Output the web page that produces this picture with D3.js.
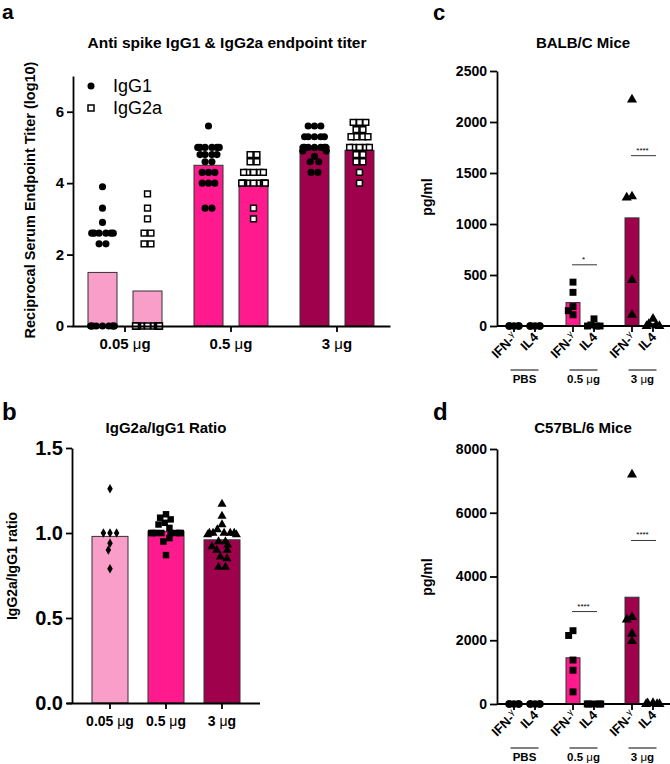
<!DOCTYPE html>
<html><head><meta charset="utf-8">
<script src="https://cdn.jsdelivr.net/npm/d3@7"></script>
<style>body{margin:0;background:#fff} svg{display:block} text{font-family:Arial,"Liberation Sans",sans-serif}</style>
</head><body><svg id="c" width="670" height="764"></svg>
<script>
// ---------------- DATA ----------------
const doseLabels = ["0.05 μg", "0.5 μg", "3 μg"];
const doseColors = ["#F99DC9", "#FF1B8D", "#A0014C"];

// Panel a : anti spike IgG1 & IgG2a endpoint titer (log10)
const aSeries = ["IgG1", "IgG2a"];
const aYTicks = [0, 2, 4, 6];
const aBarIgG1 = [1.5, 4.5, 5.03];
const aBarIgG2a = [0.98, 4.08, 4.92];
const aIgG1_005 = [3.9, 3.3, 2.9, 2.6, 2.6, 2.6, 2.6, 2.6, 2.6, 2.3, 2.3, 0, 0, 0, 0, 0, 0, 0, 0, 0];
const aIgG1_05 = [5.6, 5.0, 5.0, 5.0, 5.0, 5.0, 5.0, 4.8, 4.8, 4.8, 4.8, 4.6, 4.6, 4.3, 4.3, 4.3, 4.0, 4.0, 4.0, 3.3, 3.3];
const aIgG1_3 = [5.6, 5.6, 5.6, 5.3, 5.3, 5.3, 5.3, 5.3, 5.0, 5.0, 5.0, 5.0, 5.0, 5.0, 5.0, 4.9, 4.9, 4.75, 4.6, 4.6, 4.3, 4.3];
const aIgG2a_005 = [3.7, 3.3, 3.0, 2.6, 2.6, 2.3, 2.3, 0, 0, 0, 0, 0, 0, 0, 0, 0, 0, 0, 0, 0];
const aIgG2a_05 = [4.8, 4.8, 4.6, 4.6, 4.3, 4.3, 4.3, 4.3, 4.3, 4.0, 4.0, 4.0, 4.0, 4.0, 4.0, 4.0, 4.0, 4.0, 3.3, 3.0];
const aIgG2a_3 = [5.7, 5.7, 5.7, 5.5, 5.5, 5.3, 5.3, 5.3, 5.3, 5.0, 5.0, 5.0, 5.0, 5.0, 4.8, 4.8, 4.6, 4.6, 4.3, 4.0];

// Panel b : IgG2a/IgG1 ratio
const bYTicks = [0, 0.5, 1.0, 1.5];
const bBars = [0.98, 1.01, 0.96];
const bRatio005 = [1.26, 1.0, 1.0, 1.0, 0.94, 0.90, 0.79];
const bRatio05 = [1.11, 1.09, 1.08, 1.06, 1.05, 1.03, 1.0, 1.0, 1.0, 1.0, 1.0, 1.0, 1.0, 1.0, 0.97, 0.95, 0.87];
const bRatio3 = [1.17, 1.10, 1.05, 1.02, 1.0, 1.0, 1.0, 1.0, 1.0, 0.99, 0.99, 0.95, 0.95, 0.93, 0.92, 0.90, 0.90, 0.86, 0.85, 0.80, 0.80];

// Panels c & d : cytokines (pg/ml)
const cdGroups = ["PBS", "0.5 μg", "3 μg"];
const cdCytokines = ["IFN-γ", "IL4"];
const cdColors = ["#FFFFFF", "#FF1B8D", "#A0014C"];
const cYTicks = [0, 500, 1000, 1500, 2000, 2500];
const cBarIFN = [0, 230, 1060];
const cBarIL4 = [0, 15, 25];
const cPBS_IFN = [0, 0, 0, 0, 0];
const cPBS_IL4 = [0, 0, 0, 0, 0];
const c05_IFN = [430, 330, 190, 150, 110];
const c05_IL4 = [70, 10, 0, 0, 0];
const c3_IFN = [2220, 1270, 1260, 450, 110];
const c3_IL4 = [70, 20, 10, 0, 0];
const cSigLabels = ["", "*", "****"];
const cSigLevel = [null, 600, 1670];

const dYTicks = [0, 2000, 4000, 6000, 8000];
const dBarIFN = [0, 1450, 3350];
const dBarIL4 = [0, 0, 20];
const dPBS_IFN = [0, 0, 0, 0, 0];
const dPBS_IL4 = [0, 0, 0, 0, 0];
const d05_IFN = [2300, 2150, 1380, 1060, 380];
const d05_IL4 = [0, 0, 0, 0, 0];
const d3_IFN = [7200, 2730, 2650, 2200, 1970];
const d3_IL4 = [30, 20, 0, 0, 0];
const dSigLabels = ["", "****", "****"];
const dSigLevel = [null, 2900, 5130];

// ---------------- HELPERS ----------------
const FONT = "Arial, 'Liberation Sans', sans-serif";
const svg = d3.select("#c");

function styleAxis(g, fs) {
  g.selectAll("path.domain").attr("stroke", "#000").attr("stroke-width", 1.8);
  g.selectAll(".tick line").attr("stroke", "#000").attr("stroke-width", 1.8);
  g.selectAll(".tick text").attr("font-family", FONT).attr("font-weight", "bold")
    .attr("font-size", fs).attr("fill", "#000");
}

function swarm(values, y, cx, d, limit) {
  const pts = values.map(v => ({ v, y: y(v) })).sort((a, b) => a.y - b.y);
  const placed = [];
  pts.forEach(p => {
    const cands = [0];
    placed.forEach(q => {
      const dy = Math.abs(q.y - p.y);
      if (dy < d) { const dx = Math.sqrt(d * d - dy * dy); cands.push(q.o - dx - 0.01, q.o + dx + 0.01); }
    });
    const valid = cands.filter(c => placed.every(q => { const dy = q.y - p.y, dx = q.o - c; return dx * dx + dy * dy >= d * d - 0.1; }));
    valid.sort((a, b) => Math.abs(a) - Math.abs(b) || a - b);
    p.o = valid[0];
    placed.push(p);
  });
  const byV = d3.group(pts, p => p.v);
  byV.forEach(arr => { if (arr.length > 1) { const m = d3.mean(arr, p => p.o); arr.forEach(p => p.o -= m); } });
  pts.forEach(p => { p.x = cx + limit * Math.tanh(p.o / limit); });
  return pts;
}

function drawPoints(g, pts, symType, size, fill, stroke, sw) {
  g.selectAll(null).data(pts).enter().append("path")
    .attr("d", d3.symbol().type(symType).size(size))
    .attr("transform", p => `translate(${p.x},${p.y})`)
    .attr("fill", fill).attr("stroke", stroke).attr("stroke-width", sw);
}

function text(x, y, s, fs, opts = {}) {
  return svg.append("text").attr("x", x).attr("y", y).text(s)
    .attr("font-family", FONT).attr("font-size", fs)
    .attr("font-weight", opts.weight || "bold").attr("text-anchor", opts.anchor || "start")
    .attr("fill", "#000");
}

function rotLabel(x, y, s, fs) {
  svg.append("text").attr("transform", `translate(${x},${y}) rotate(-90)`)
    .attr("text-anchor", "middle").attr("font-family", FONT).attr("font-weight", "bold")
    .attr("font-size", fs).text(s);
}

function muLabel(t, d) {
  const parts = d.split(" ");
  t.text(null);
  if (parts.length < 2) { t.text(d); return; }
  t.append("tspan").text(parts[0] + " ");
  t.append("tspan").attr("font-weight", "normal").text("μ");
  t.append("tspan").text("g");
}

// ---------------- PANEL A ----------------
{
  const y = d3.scaleLinear().domain([0, 7]).range([326, 76]);
  const x0 = d3.scaleBand().domain(doseLabels).range([72, 390]);
  const x1 = d3.scalePoint().domain(aSeries).range([-22.5, 22.5]);
  const bw = 29;
  const g = svg.append("g");
  const bars = [aBarIgG1, aBarIgG2a];
  const pts = [[aIgG1_005, aIgG1_05, aIgG1_3], [aIgG2a_005, aIgG2a_05, aIgG2a_3]];
  aSeries.forEach((s, si) => {
    doseLabels.forEach((dl, di) => {
      const cx = x0(dl) + x0.bandwidth() / 2 + x1(s);
      g.append("rect").attr("x", cx - bw / 2).attr("y", y(bars[si][di]))
        .attr("width", bw).attr("height", y(0) - y(bars[si][di]))
        .attr("fill", doseColors[di]).attr("stroke", "#333").attr("stroke-width", 1);
    });
  });
  aSeries.forEach((s, si) => {
    doseLabels.forEach((dl, di) => {
      const cx = x0(dl) + x0.bandwidth() / 2 + x1(s);
      const p = swarm(pts[si][di], y, cx, 7, 12);
      if (si === 0) drawPoints(g, p, d3.symbolCircle, 40, "#000", "none", 0);
      else drawPoints(g, p, d3.symbolSquare, 34, "#fff", "#000", 1.5);
    });
  });
  const ya = svg.append("g").attr("transform", "translate(73,0)")
    .call(d3.axisLeft(y).tickValues(aYTicks).tickFormat(d3.format("d")).tickSize(6).tickSizeOuter(0).tickPadding(3));
  styleAxis(ya, 15);
  const xa = svg.append("g").attr("transform", "translate(0,326)")
    .call(d3.axisBottom(x0).tickSize(6).tickSizeOuter(0).tickPadding(6));
  styleAxis(xa, 15);
  xa.selectAll(".tick text").each(function (d) { muLabel(d3.select(this), d); });
  // legend
  svg.append("circle").attr("cx", 91).attr("cy", 86).attr("r", 3.5).attr("fill", "#000");
  svg.append("rect").attr("x", 88).attr("y", 105).attr("width", 6).attr("height", 6)
    .attr("fill", "#fff").attr("stroke", "#000").attr("stroke-width", 1.5);
  text(113, 92, aSeries[0], 18, { weight: "normal" });
  text(113, 114, aSeries[1], 18, { weight: "normal" });
  text(227, 48, "Anti spike IgG1 & IgG2a endpoint titer", 15.5, { anchor: "middle" });
  rotLabel(35, 200, "Reciprocal Serum Endpoint Titer (log10)", 14.5);
  text(2, 19, "a", 21);
}

// ---------------- PANEL B ----------------
{
  const y = d3.scaleLinear().domain([0, 1.5]).range([703, 448]);
  const x = d3.scaleBand().domain(doseLabels).range([82, 250]);
  const bw = 36;
  const g = svg.append("g");
  doseLabels.forEach((dl, di) => {
    const cx = x(dl) + x.bandwidth() / 2;
    g.append("rect").attr("x", cx - bw / 2).attr("y", y(bBars[di]))
      .attr("width", bw).attr("height", y(0) - y(bBars[di]))
      .attr("fill", doseColors[di]).attr("stroke", "#333").attr("stroke-width", 1);
  });
  const pts = [bRatio005, bRatio05, bRatio3];
  const syms = [[d3.symbolDiamond, 26], [d3.symbolSquare, 42], [d3.symbolTriangle, 36]];
  doseLabels.forEach((dl, di) => {
    const cx = x(dl) + x.bandwidth() / 2;
    const p = swarm(pts[di], y, cx, 7, 16);
    drawPoints(g, p, syms[di][0], syms[di][1], "#000", "none", 0);
  });
  const ya = svg.append("g").attr("transform", "translate(72,0)")
    .call(d3.axisLeft(y).tickValues(bYTicks).tickFormat(d3.format(".1f")).tickSize(6).tickSizeOuter(0).tickPadding(3));
  styleAxis(ya, 20);
  const xa = svg.append("g").attr("transform", "translate(0,703)")
    .call(d3.axisBottom(x).tickSize(6).tickSizeOuter(0).tickPadding(7));
  xa.select("path.domain").attr("d", "M67,0.5H260");
  styleAxis(xa, 14);
  xa.selectAll(".tick text").each(function (d) { muLabel(d3.select(this), d); });
  text(166, 433, "IgG2a/IgG1 Ratio", 15, { anchor: "middle" });
  rotLabel(17, 566, "IgG2a/IgG1 ratio", 14);
  text(2, 420, "b", 24);
}

// ---------------- PANELS C & D ----------------
function cytoPanel(o) {
  const y = d3.scaleLinear().domain(o.domain).range([o.y0, o.y1]);
  const x0 = d3.scaleBand().domain(cdGroups).range([495, 672]);
  const x1 = d3.scalePoint().domain(cdCytokines).range([-10.5, 10.5]);
  const bw = 14;
  const g = svg.append("g");
  const cx = (gr, c) => x0(gr) + x0.bandwidth() / 2 + x1(c);
  cdGroups.forEach((gr, gi) => {
    cdCytokines.forEach((c, ci) => {
      const v = (ci === 0 ? o.barIFN : o.barIL4)[gi];
      if (v > 0) g.append("rect").attr("x", cx(gr, c) - bw / 2).attr("y", y(v))
        .attr("width", bw).attr("height", y(0) - y(v))
        .attr("fill", cdColors[gi]).attr("stroke", "#333").attr("stroke-width", 1);
    });
  });
  const syms = [[d3.symbolCircle, 44], [d3.symbolSquare, 48], [d3.symbolTriangle, 44]];
  cdGroups.forEach((gr, gi) => {
    cdCytokines.forEach((c, ci) => {
      const p = swarm(o.pts[gi][ci], y, cx(gr, c), 7, gi === 0 ? 5 : 7);
      drawPoints(g, p, syms[gi][0], syms[gi][1], "#000", "none", 0);
    });
  });
  // axes
  const ya = svg.append("g").attr("transform", "translate(497,0)")
    .call(d3.axisLeft(y).tickValues(o.ticks).tickFormat(d3.format("d")).tickSize(7).tickSizeOuter(0).tickPadding(3));
  styleAxis(ya, 14);
  svg.append("line").attr("x1", 497).attr("x2", 670).attr("y1", o.y0).attr("y2", o.y0)
    .attr("stroke", "#000").attr("stroke-width", 1.8);
  cdGroups.forEach((gr, gi) => {
    cdCytokines.forEach((c, ci) => {
      const xx = cx(gr, c);
      svg.append("line").attr("x1", xx).attr("x2", xx).attr("y1", o.y0).attr("y2", o.y0 + 6)
        .attr("stroke", "#000").attr("stroke-width", 1.8);
      const t = svg.append("text").attr("transform", `translate(${xx + 4},${o.y0 + 12}) rotate(-45)`)
        .attr("text-anchor", "end").attr("font-family", FONT).attr("font-weight", "bold").attr("font-size", 13);
      if (c === "IFN-γ") {
        t.append("tspan").text("IFN-");
        t.append("tspan").attr("font-size", 9).attr("font-weight", "normal").attr("dy", -5).text("γ");
      } else t.text(c);
    });
    const gc = x0(gr) + x0.bandwidth() / 2;
    svg.append("line").attr("x1", gc - 14).attr("x2", gc + 14).attr("y1", o.y0 + 44).attr("y2", o.y0 + 44)
      .attr("stroke", "#000").attr("stroke-width", 1);
    const lt = text(gc, o.y0 + 57, "", 11.5, { anchor: "middle" });
    muLabel(lt, gr);
    if (o.sig[gi]) {
      const ly = y(o.sigLevel[gi]);
      svg.append("line").attr("x1", cx(gr, cdCytokines[0]) - 1).attr("x2", cx(gr, cdCytokines[1]) + 3)
        .attr("y1", ly).attr("y2", ly).attr("stroke", "#000").attr("stroke-width", 0.8);
      text(gc, ly - 3, o.sig[gi], 8, { anchor: "middle", weight: "normal" });
    }
  });
  text(583, o.titleY, o.title, 15, { anchor: "middle" });
  rotLabel(432, o.labelY, "pg/ml", 14);
  text(433, o.letterY, o.letter, o.letterSize);
}

cytoPanel({
  domain: [0, 2500], y0: 326, y1: 71, ticks: cYTicks,
  barIFN: cBarIFN, barIL4: cBarIL4,
  pts: [[cPBS_IFN, cPBS_IL4], [c05_IFN, c05_IL4], [c3_IFN, c3_IL4]],
  sig: cSigLabels, sigLevel: cSigLevel,
  title: "BALB/C Mice", titleY: 48, labelY: 197, letter: "c", letterY: 20, letterSize: 22
});
cytoPanel({
  domain: [0, 8000], y0: 704, y1: 449, ticks: dYTicks,
  barIFN: dBarIFN, barIL4: dBarIL4,
  pts: [[dPBS_IFN, dPBS_IL4], [d05_IFN, d05_IL4], [d3_IFN, d3_IL4]],
  sig: dSigLabels, sigLevel: dSigLevel,
  title: "C57BL/6 Mice", titleY: 433, labelY: 577, letter: "d", letterY: 420, letterSize: 24
});
</script></body></html>
